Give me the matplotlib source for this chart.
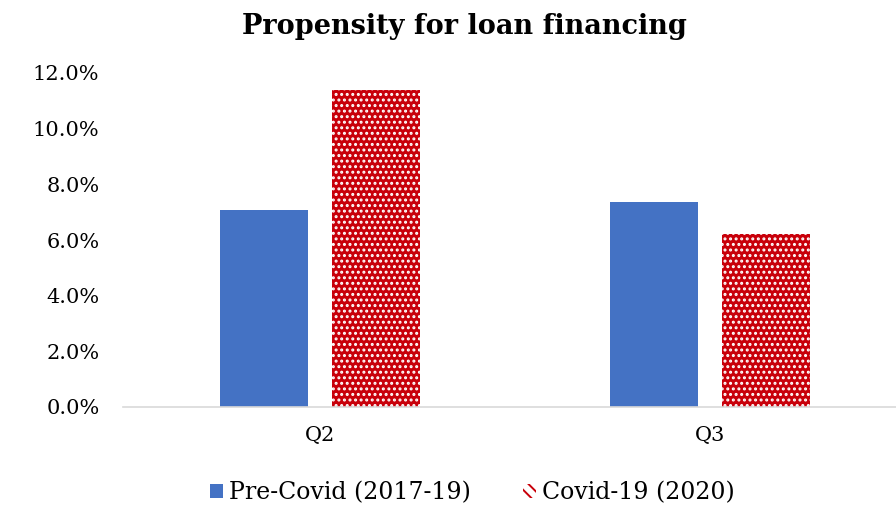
import matplotlib.pyplot as plt
import matplotlib
import numpy as np
from matplotlib.ticker import PercentFormatter
from matplotlib.patches import Patch

matplotlib.rcParams['font.family'] = ['DejaVu Serif']
matplotlib.rcParams['hatch.linewidth'] = 1.4

# 数据
quarters = ['Q2', 'Q3']
pre_covid = [7.08, 7.37]      # Pre-Covid (2017-19), %
covid_2020 = [11.39, 6.22]    # Covid-19 (2020), %

blue = '#4472C4'
red = '#C8000A'

fig = plt.figure(figsize=(8.96, 5.12), dpi=100)
ax = fig.add_axes([123 / 896, 1 - 407 / 512, 1 - 123 / 896, (407 - 73) / 512])

x = np.arange(len(quarters))
w = 0.226
off = 0.1436

ax.bar(x - off, pre_covid, w, color=blue, linewidth=0)
ax.bar(x + off, covid_2020, w, color=red, edgecolor='white', linewidth=0, hatch='...')

ax.set_xlim(-0.505, 1.477)
ax.set_ylim(0, 12)
ax.set_yticks(np.arange(0, 12.1, 2))
ax.yaxis.set_major_formatter(PercentFormatter(decimals=1))
ax.set_xticks(x)
ax.set_xticklabels(quarters)
ax.tick_params(axis='y', length=0, labelsize=15, pad=17)
ax.tick_params(axis='x', length=0, labelsize=15, pad=14)

for s in ['top', 'right', 'left']:
    ax.spines[s].set_visible(False)
ax.spines['bottom'].set_color('#D9D9D9')
ax.spines['bottom'].set_linewidth(1.2)

fig.suptitle('Propensity for loan financing', x=0.518, y=0.975, fontsize=19.5, fontweight='bold')

handles = [
    Patch(facecolor=blue, linewidth=0, label='Pre-Covid (2017-19)'),
    Patch(facecolor='white', edgecolor=red, linewidth=0, hatch='\\\\\\', label='Covid-19 (2020)'),
]
fig.legend(handles=handles, loc='center', bbox_to_anchor=(0.527, 0.037), ncol=2, frameon=False,
           fontsize=17, handlelength=0.55, handleheight=0.55, handletextpad=0.25, columnspacing=2.2)

fig.savefig('out.png', dpi=100)
